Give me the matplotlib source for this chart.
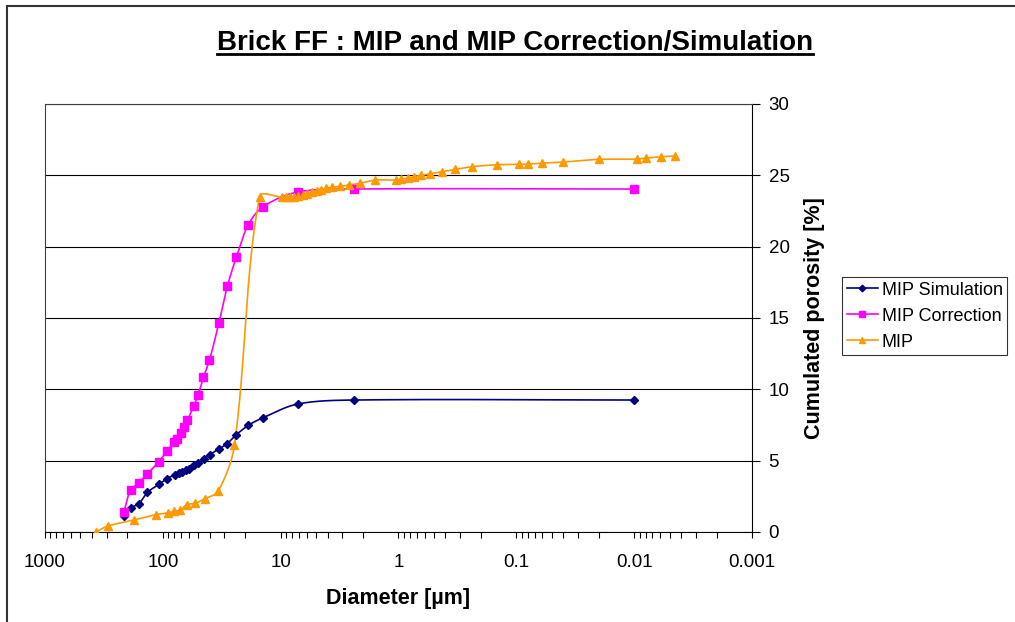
import numpy as np
import matplotlib
matplotlib.use("Agg")
import matplotlib.pyplot as plt
from matplotlib.patches import Rectangle
from matplotlib.lines import Line2D
from matplotlib.ticker import LogLocator, NullFormatter, FixedLocator, FixedFormatter

plt.rcParams['font.family'] = ['Liberation Sans', 'DejaVu Sans']

# data
sim_d = [214, 188, 160, 135, 108, 92, 79, 73.6, 69, 63.8, 60, 53.9, 50.2, 44.7, 40,
         33.4, 28.5, 23.9, 18.8, 14.1, 7.18, 2.39, 0.01]
sim_y = [1.12, 1.68, 1.98, 2.78, 3.34, 3.74, 4.02, 4.11, 4.23, 4.35, 4.44, 4.67, 4.84,
         5.12, 5.42, 5.82, 6.19, 6.80, 7.48, 8.01, 8.97, 9.25, 9.25]

corr_d = [214, 188, 160, 135, 108, 92, 80, 76.5, 70.8, 66.4, 61.8, 54.6, 50.2, 45.2,
          40.2, 33.4, 28.3, 23.8, 18.9, 14.1, 7.18, 2.39, 0.01]
corr_y = [1.42, 2.92, 3.46, 4.09, 4.93, 5.70, 6.31, 6.54, 6.92, 7.38, 7.85, 8.83, 9.60,
          10.84, 12.05, 14.67, 17.24, 19.25, 21.51, 22.80, 23.83, 24.04, 24.04]

mip_d = [372, 292, 176, 115, 89.6, 80.2, 71.8, 62.6, 53.2, 43.8, 34, 24.7, 15.1, 9.68,
         8.96, 8.28, 7.66, 7.08, 6.47, 5.98, 5.46, 4.95, 4.58, 4.13, 3.67, 3.16, 2.64,
         2.14, 1.57, 1.05, 0.95, 0.83, 0.74, 0.64, 0.54, 0.43, 0.33, 0.24, 0.147, 0.094,
         0.079, 0.060, 0.040, 0.020, 0.0095, 0.0079, 0.0059, 0.0045]
mip_y = [0.0, 0.42, 0.84, 1.21, 1.35, 1.45, 1.52, 1.91, 2.01, 2.34, 2.85, 6.07, 23.5,
         23.46, 23.46, 23.48, 23.5, 23.55, 23.62, 23.69, 23.8, 23.92, 23.99, 24.08,
         24.16, 24.23, 24.32, 24.44, 24.67, 24.67, 24.74, 24.8, 24.9, 25.0, 25.1, 25.25,
         25.42, 25.6, 25.74, 25.77, 25.79, 25.86, 25.93, 26.12, 26.14, 26.21, 26.3, 26.35]

x_ticks = [1000, 100, 10, 1, 0.1, 0.01, 0.001]
x_labels = ['1000', '100', '10', '1', '0.1', '0.01', '0.001']
y_ticks = [0, 5, 10, 15, 20, 25, 30]


def smooth(xs, ys, n=25):
    # excel-like smoothed line, worked out in screen-proportional units
    sx, sy = 118.0, 14.27
    P = np.column_stack([-np.log10(xs) * sx, np.array(ys) * sy])
    E = np.vstack([P[0], P, P[-1]])
    out = []
    t = np.linspace(0, 1, n)[:, None]
    for i in range(len(P) - 1):
        p0, p1, p2, p3 = E[i], E[i + 1], E[i + 2], E[i + 3]
        d01 = np.hypot(*(p1 - p0)); d12 = np.hypot(*(p2 - p1)); d23 = np.hypot(*(p3 - p2))
        f1 = d12 / (d01 + d12) if d01 + d12 > 0 else 0
        f2 = d12 / (d12 + d23) if d12 + d23 > 0 else 0
        c1 = p1 + (p2 - p0) * f1 / 3
        c2 = p2 - (p3 - p1) * f2 / 3
        seg = (1 - t)**3 * p1 + 3 * (1 - t)**2 * t * c1 + 3 * (1 - t) * t**2 * c2 + t**3 * p2
        out.append(seg if i == 0 else seg[1:])
    pts = np.vstack(out)
    return 10 ** (-pts[:, 0] / sx), pts[:, 1] / sy


fig = plt.figure(figsize=(10.15, 6.22), dpi=100)
ax = fig.add_axes([45 / 1015, 1 - 532 / 622, 707 / 1015, 428 / 622])

series = [
    (sim_d, sim_y, '#000080', 'D', 4.2, 'MIP Simulation'),
    (corr_d, corr_y, '#FF00FF', 's', 5.5, 'MIP Correction'),
    (mip_d, mip_y, '#FF9900', '^', 6.0, 'MIP'),
]
handles = []
for d, y, c, m, ms, lab in series:
    sx, sy = smooth(d, y)
    ax.plot(sx, sy, color=c, lw=1.2, zorder=3)
    ax.plot(d, y, ls='none', marker=m, ms=ms, color=c, mec=c, zorder=4)
    handles.append(Line2D([], [], color=c, lw=1.2, marker=m, ms=ms * 0.8, mec=c, label=lab))

ax.set_xscale('log')
ax.set_xlim(1000, 0.001)
ax.set_ylim(0, 30)
ax.xaxis.set_major_locator(FixedLocator(x_ticks))
ax.xaxis.set_major_formatter(FixedFormatter(x_labels))
ax.xaxis.set_minor_locator(LogLocator(base=10, subs=np.arange(2, 10)))
ax.xaxis.set_minor_formatter(NullFormatter())
ax.tick_params(axis='x', which='both', direction='out', length=4, width=0.8,
               labelsize=13.5, pad=12)

ax.yaxis.tick_right()
ax.yaxis.set_label_position('right')
ax.set_yticks(y_ticks)
ax.tick_params(axis='y', direction='out', length=6, width=0.8, labelsize=13.5, pad=6)
ax.grid(axis='y', color='black', lw=0.8)
ax.set_axisbelow(True)

for s in ['top', 'left']:
    ax.spines[s].set_color('#404040')
    ax.spines[s].set_linewidth(0.8)
for s in ['right', 'bottom']:
    ax.spines[s].set_color('black')
    ax.spines[s].set_linewidth(0.8)

ax.set_xlabel('Diameter [µm]', fontsize=15.5, fontweight='bold', labelpad=12)
ax.set_ylabel('Cumulated porosity [%]', fontsize=15.5, fontweight='bold', labelpad=10)

title = fig.text(515 / 1015, 1 - 43 / 622, 'Brick FF : MIP and MIP Correction/Simulation',
                 ha='center', va='center', fontsize=20, fontweight='bold')

leg = fig.legend(handles=handles, loc='upper left', bbox_to_anchor=(842 / 1015, 1 - 277 / 622),
                 borderaxespad=0, fontsize=13, frameon=True, fancybox=False,
                 handlelength=1.75, handletextpad=0.2, labelspacing=0.5, borderpad=0.25)
leg.get_frame().set_edgecolor('black')
leg.get_frame().set_linewidth(0.8)

# outer chart border (right and bottom run off the image)
fig.patches.append(Rectangle((7 / 1015, -0.1), 1.2, 1.1 - 6 / 622, transform=fig.transFigure,
                             fill=False, ec='#333333', lw=1.5))

# underline the title
fig.canvas.draw()
bb = title.get_window_extent().transformed(fig.transFigure.inverted())
fig.add_artist(Line2D([bb.x0, bb.x1], [bb.y0 + 0.003, bb.y0 + 0.003], transform=fig.transFigure,
                      color='black', lw=2))

fig.savefig('out.png', dpi=100)
